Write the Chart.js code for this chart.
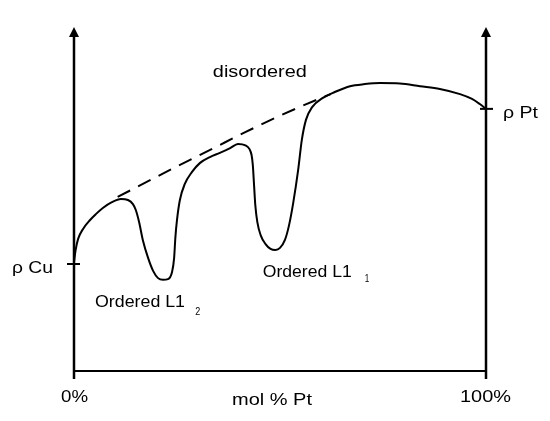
<!DOCTYPE html>
<html>
<head>
<meta charset="utf-8">
<script src="https://cdn.jsdelivr.net/npm/chart.js@4.4.1/dist/chart.umd.min.js"></script>
<style>
  html, body { margin: 0; padding: 0; background: #fff; }
  #wrap { width: 550px; height: 421px; }
</style>
</head>
<body>
<div id="wrap"><canvas id="c" width="550" height="421"></canvas></div>
<script>
// ---- data (arbitrary resistivity units 0..100, composition in mol % Pt) ----
const solidX = [0, 0.4, 1.0, 2.2, 3.9, 5.3, 7.0, 9.2, 11.4, 13.1, 14.3, 15.0, 15.8, 16.7, 18.0, 19.2, 20.4, 21.6, 22.8, 23.8, 24.3, 24.6, 25.0, 25.7, 26.9, 28.6, 30.6, 33.0, 35.4, 37.9, 39.8, 41.6, 42.6, 43.1, 43.4, 43.7, 44.0, 44.5, 45.3, 46.5, 47.7, 48.9, 50.0, 51.2, 52.2, 53.2, 54.4, 55.3, 56.3, 57.8, 60.4, 63.3, 67.0, 70.6, 74.3, 79.1, 84.0, 88.8, 93.7, 96.6, 98.5, 100];
const solidY = [31.7, 35.2, 38.4, 41.3, 43.9, 45.6, 47.4, 49.1, 50.0, 49.7, 48.5, 46.8, 43.3, 38.1, 32.8, 29.1, 27.0, 26.5, 26.7, 28.8, 32.8, 38.7, 43.9, 49.7, 54.4, 57.8, 60.5, 62.2, 63.4, 64.8, 66.0, 65.6, 64.5, 62.8, 59.9, 54.1, 48.3, 43.3, 39.5, 36.9, 35.5, 35.2, 35.8, 38.1, 42.4, 48.8, 58.4, 67.2, 73.0, 76.7, 79.4, 81.1, 82.8, 83.4, 83.7, 83.6, 82.8, 82.0, 80.5, 79.1, 77.6, 76.2];
const dashX = [10.6, 24.2, 33.9, 41.2, 47.8, 54.3, 62.3];
const dashY = [50.6, 59.0, 64.8, 69.2, 73.0, 76.5, 80.5];
const yTickValues = [31.1, 76.2];
const yTickLabels = ['ρ Cu', 'ρ Pt'];
const xTickValues = [0, 100];
const xTickLabels = ['0%', '100%'];
const xAxisTitle = 'mol % Pt';
const regionLabels = ['disordered', 'Ordered L1', 'Ordered L1'];
const regionSubs = ['', '2', '1'];

const toPts = (xs, ys) => xs.map((x, i) => ({ x: x, y: ys[i] }));

const FONT = '"Liberation Sans", Arial, sans-serif';
function drawText(ctx, text, x, y, size, targetW) {
  ctx.save();
  ctx.font = size + 'px ' + FONT;
  ctx.textAlign = 'left';
  ctx.textBaseline = 'alphabetic';
  const w = ctx.measureText(text).width;
  const sx = targetW ? targetW / w : 1;
  ctx.translate(x, y);
  ctx.scale(sx, 1);
  ctx.fillStyle = '#000';
  ctx.fillText(text, 0, 0);
  ctx.restore();
}

const axesPlugin = {
  id: 'axesPlugin',
  afterDraw(chart) {
    const ctx = chart.ctx;
    const xs = chart.scales.x, ys = chart.scales.y;
    const xL = xs.getPixelForValue(0), xR = xs.getPixelForValue(100);
    const yB = ys.getPixelForValue(0), yT = ys.getPixelForValue(100);
    ctx.save();
    ctx.strokeStyle = '#000';
    ctx.fillStyle = '#000';
    ctx.lineWidth = 2.5;
    ctx.lineCap = 'butt';
    // vertical axes with arrowheads
    [xL, xR].forEach(x => {
      ctx.beginPath();
      ctx.moveTo(x, yT + 8);
      ctx.lineTo(x, yB + 8);
      ctx.stroke();
      ctx.beginPath();
      ctx.moveTo(x, yT);
      ctx.lineTo(x - 5, yT + 10);
      ctx.lineTo(x + 5, yT + 10);
      ctx.closePath();
      ctx.fill();
    });
    // horizontal axis
    ctx.lineWidth = 2;
    ctx.beginPath();
    ctx.moveTo(xL, yB);
    ctx.lineTo(xR, yB);
    ctx.stroke();
    // y ticks
    const tp0 = ys.getPixelForValue(yTickValues[0]);
    ctx.beginPath(); ctx.moveTo(xL - 7, tp0); ctx.lineTo(xL + 6, tp0); ctx.stroke();
    const tp1 = ys.getPixelForValue(yTickValues[1]);
    ctx.beginPath(); ctx.moveTo(xR - 6, tp1); ctx.lineTo(xR + 7, tp1); ctx.stroke();
    ctx.restore();

    // tick labels
    drawText(ctx, yTickLabels[0], xL - 62, tp0 + 9, 17, 41);
    drawText(ctx, yTickLabels[1], xR + 17, tp1 + 9, 17, 35);
    drawText(ctx, xTickLabels[0], xs.getPixelForValue(xTickValues[0]) - 13, yB + 31, 17, 27);
    drawText(ctx, xTickLabels[1], xs.getPixelForValue(xTickValues[1]) - 26, yB + 31, 17, 51);
    drawText(ctx, xAxisTitle, (xL + xR) / 2 - 48, yB + 34, 17, 80);

    // region labels
    drawText(ctx, regionLabels[0], xs.getPixelForValue(33.7), ys.getPixelForValue(85.5), 17, 94);
    drawText(ctx, regionLabels[1], xs.getPixelForValue(5.1), ys.getPixelForValue(18.5), 17, 90);
    drawText(ctx, regionSubs[1], xs.getPixelForValue(29.4), ys.getPixelForValue(16.3), 10, 5);
    drawText(ctx, regionLabels[2], xs.getPixelForValue(45.8), ys.getPixelForValue(27.4), 17, 89);
    drawText(ctx, regionSubs[2], xs.getPixelForValue(70.6), ys.getPixelForValue(25.9), 10, 4.5);
  }
};

new Chart(document.getElementById('c'), {
  type: 'line',
  data: {
    datasets: [
      {
        label: 'ordered',
        data: toPts(solidX, solidY),
        borderColor: '#000',
        borderWidth: 2,
        pointRadius: 0,
        cubicInterpolationMode: 'monotone',
        fill: false,
        clip: false
      },
      {
        label: 'disordered',
        data: toPts(dashX, dashY),
        borderColor: '#000',
        borderWidth: 2,
        borderDash: [14, 9],
        pointRadius: 0,
        cubicInterpolationMode: 'monotone',
        fill: false,
        clip: false
      }
    ]
  },
  options: {
    responsive: false,
    animation: false,
    devicePixelRatio: 1,
    layout: { padding: { left: 74, right: 64, top: 27, bottom: 50 } },
    plugins: { legend: { display: false }, tooltip: { enabled: false } },
    scales: {
      x: { type: 'linear', min: 0, max: 100, display: false },
      y: { type: 'linear', min: 0, max: 100, display: false }
    }
  },
  plugins: [axesPlugin]
});
</script>
</body>
</html>
